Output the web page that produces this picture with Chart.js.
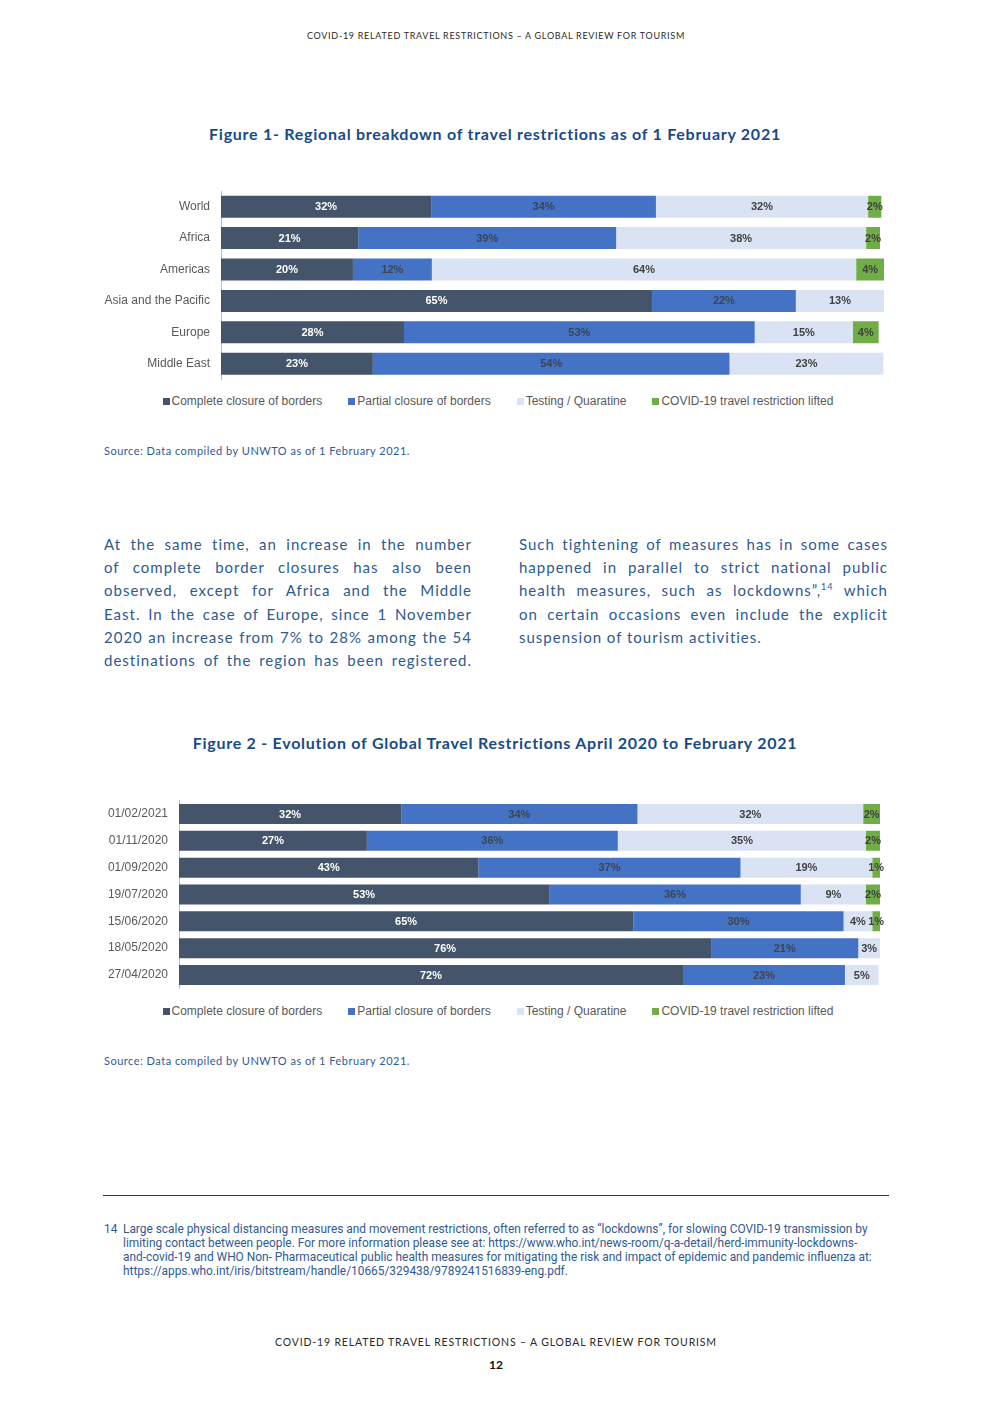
<!DOCTYPE html>
<html>
<head>
<meta charset="utf-8">
<script src="https://cdn.jsdelivr.net/npm/chart.js@4.4.1/dist/chart.umd.min.js"></script>
<style>
  body { margin: 0; background: #fff; }
  #page { position: relative; width: 992px; height: 1403px; overflow: hidden; font-family: Lato, "Noto Sans", sans-serif; }
  .abs { position: absolute; white-space: nowrap; }
  .hdr { left: 0; width: 992px; text-align: center; color: #2a2a2a; }
  .title { left: 0; width: 990px; text-align: center; color: #184b88; font-weight: bold; font-size: 16px; letter-spacing: 0.74px; }
  .source { left: 104px; font-size: 11px; color: #2f5a96; letter-spacing: 0.5px; }
  .col { position: absolute; width: 368px; font-size: 15px; letter-spacing: 1px; color: #2c5a93; line-height: 23.2px; }
  .col div { white-space: nowrap; text-align: justify; text-align-last: justify; }
  .col div.last { text-align-last: left; }
  .chartbox { position: absolute; }
  .legend { position: absolute; left: 100px; width: 796px; text-align: center; font-family: "Liberation Sans", Arial, sans-serif; font-size: 12px; color: #595959; white-space: nowrap; }
  .legend span.item { display: inline-block; margin: 0 13px; }
  .legend span.box { display: inline-block; width: 7px; height: 7px; margin-right: 2px; }
  .foot { left: 123px; font-family: "Liberation Sans Narrow", "Roboto", sans-serif; font-size: 11.9px; color: #2f5a96; line-height: 14px; }
  sup { font-size: 9px; line-height: 0; }
</style>
</head>
<body>
<div id="page">
  <div class="abs hdr" style="top:30px;font-size:9px;letter-spacing:0.7px;">COVID-19 RELATED TRAVEL RESTRICTIONS – A GLOBAL REVIEW FOR TOURISM</div>

  <div class="abs title" style="top:124px;">Figure 1- Regional breakdown of travel restrictions as of 1 February 2021</div>
  <div class="chartbox" style="left:100px;top:185px;width:790px;height:200px;"><canvas id="chart1"></canvas></div>
  <div class="legend" id="legend1" style="top:394px;"></div>
  <div class="abs source" style="top:444px;">Source: Data compiled by UNWTO as of 1 February 2021.</div>

  <div class="col" style="left:104px;top:533px;">
    <div>At the same time, an increase in the number</div>
    <div>of complete border closures has also been</div>
    <div>observed, except for Africa and the Middle</div>
    <div>East. In the case of Europe, since 1 November</div>
    <div>2020 an increase from 7% to 28% among the 54</div>
    <div>destinations of the region has been registered.</div>
  </div>
  <div class="col" style="left:519px;top:533px;width:369px;">
    <div>Such tightening of measures has in some cases</div>
    <div>happened in parallel to strict national public</div>
    <div>health measures, such as lockdowns”,<sup>14</sup> which</div>
    <div>on certain occasions even include the explicit</div>
    <div class="last">suspension of tourism activities.</div>
  </div>

  <div class="abs title" style="top:733px;">Figure 2 - Evolution of Global Travel Restrictions April 2020 to February 2021</div>
  <div class="chartbox" style="left:100px;top:795px;width:786px;height:200px;"><canvas id="chart2"></canvas></div>
  <div class="legend" id="legend2" style="top:1004px;"></div>
  <div class="abs source" style="top:1054px;">Source: Data compiled by UNWTO as of 1 February 2021.</div>

  <div style="position:absolute;left:103px;top:1195px;width:786px;height:1px;background:#1f3b5e;"></div>
  <div class="abs foot" style="left:104px;top:1222px;">14</div>
  <div class="abs foot" style="top:1222px;">
    Large scale physical distancing measures and movement restrictions, often referred to as “lockdowns”, for slowing COVID-19 transmission by<br>
    limiting contact between people. For more information please see at: https://www.who.int/news-room/q-a-detail/herd-immunity-lockdowns-<br>
    and-covid-19 and WHO Non- Pharmaceutical public health measures for mitigating the risk and impact of epidemic and pandemic influenza at:<br>
    https://apps.who.int/iris/bitstream/handle/10665/329438/9789241516839-eng.pdf.
  </div>

  <div class="abs hdr" style="top:1336px;font-size:10.5px;letter-spacing:0.83px;">COVID-19 RELATED TRAVEL RESTRICTIONS – A GLOBAL REVIEW FOR TOURISM</div>
  <div class="abs hdr" style="top:1357px;font-size:12px;font-weight:bold;color:#111;">12</div>
</div>

<script>
// Figure 1 data (share of destinations, %)
const regions = ['World', 'Africa', 'Americas', 'Asia and the Pacific', 'Europe', 'Middle East'];
const regComplete = [31.7, 20.7, 19.9, 65.0, 27.6, 22.9];
const regPartial = [33.9, 38.9, 11.9, 21.7, 52.9, 53.8];
const regTesting = [32.0, 37.7, 64.0, 13.3, 14.8, 23.2];
const regLifted = [2.0, 2.1, 4.2, null, 3.9, null];

// Figure 2 data
const dates = ['01/02/2021', '01/11/2020', '01/09/2020', '19/07/2020', '15/06/2020', '18/05/2020', '27/04/2020'];
const evoComplete = [31.7, 26.8, 42.7, 52.8, 64.8, 75.9, 71.9];
const evoPartial = [33.7, 35.8, 37.4, 35.9, 30.0, 21.0, 23.1];
const evoTesting = [32.2, 35.4, 18.8, 9.3, 4.1, 3.1, 4.8];
const evoLifted = [2.4, 2.0, 1.1, 2.0, 1.1, null, null];

const seriesNames = ['Complete closure of borders', 'Partial closure of borders', 'Testing / Quaratine', 'COVID-19 travel restriction lifted'];
const seriesColors = ['#44546A', '#4472C4', '#DAE3F3', '#70AD47'];
const labelColors = ['#ffffff', '#3d4550', '#404040', '#404040'];

// Draw the % value in the middle of every bar segment
const barLabels = {
    id: 'barLabels',
    afterDatasetsDraw(chart) {
        const ctx = chart.ctx;
        chart.data.datasets.forEach((ds, di) => {
            const meta = chart.getDatasetMeta(di);
            meta.data.forEach((bar, i) => {
                const v = ds.data[i];
                if (v == null) return;
                ctx.save();
                ctx.font = 'bold 11px "Liberation Sans", Arial, sans-serif';
                ctx.fillStyle = labelColors[di];
                ctx.textAlign = 'center';
                ctx.textBaseline = 'middle';
                ctx.fillText(Math.round(v) + '%', (bar.x + bar.base) / 2, bar.y + 0.5);
                ctx.restore();
            });
        });
    }
};

function makeChart(id, labels, series, axisWidth, barPct, pad) {
    const datasets = series.map((values, i) => ({
        label: seriesNames[i],
        data: values,
        backgroundColor: seriesColors[i],
        borderWidth: 0,
        barPercentage: barPct,
        categoryPercentage: 1
    }));

    return new Chart(document.getElementById(id), {
        type: 'bar',
        data: { labels: labels, datasets: datasets },
        plugins: [barLabels],
        options: {
            indexAxis: 'y',
            responsive: true,
            maintainAspectRatio: false,
            animation: false,
            layout: { padding: pad },
            scales: {
                x: { stacked: true, min: 0, max: 100, display: false },
                y: {
                    stacked: true,
                    grid: { display: false, drawTicks: false },
                    border: { display: true, color: '#bfbfbf', width: 1 },
                    ticks: {
                        color: '#595959',
                        padding: 11,
                        font: { family: '"Liberation Sans", Arial, sans-serif', size: 12 }
                    },
                    // fixed axis width, and no extra label padding above/below the bars
                    afterFit: function(scale) {
                        scale.width = axisWidth;
                        scale.paddingTop = 0;
                        scale.paddingBottom = 0;
                    }
                }
            },
            plugins: {
                legend: { display: false },
                tooltip: { enabled: false }
            }
        }
    });
}

// Legend built from the series names and colours
function buildLegend(id) {
    const el = document.getElementById(id);
    el.innerHTML = seriesNames.map((name, i) =>
        `<span class="item"><span class="box" style="background:${seriesColors[i]}"></span>${name}</span>`
    ).join('');
}

makeChart('chart1', regions, [regComplete, regPartial, regTesting, regLifted], 121, 0.70,
    { top: 6, right: 6, bottom: 5.6, left: 0 });
makeChart('chart2', dates, [evoComplete, evoPartial, evoTesting, evoLifted], 79, 0.745,
    { top: 5.6, right: 6, bottom: 6.6, left: 0 });
buildLegend('legend1');
buildLegend('legend2');
</script>
</body>
</html>
